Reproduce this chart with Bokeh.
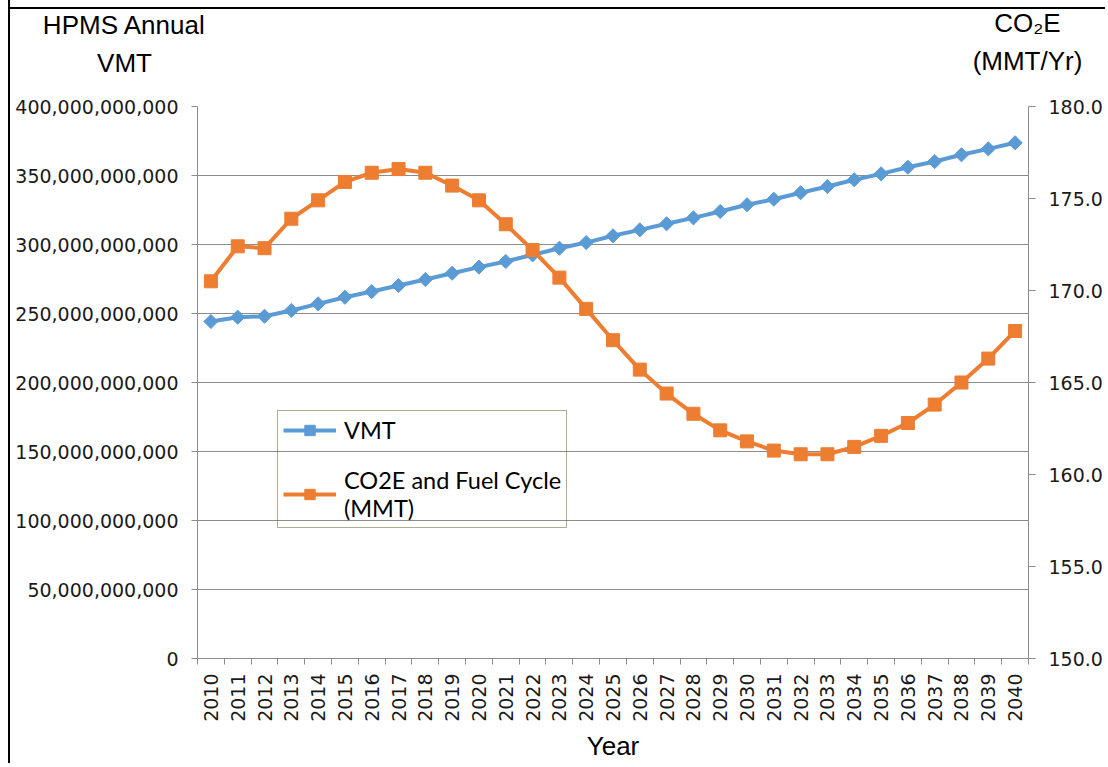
import math
from bokeh.plotting import figure
from bokeh.models import (Range1d, LinearAxis, FixedTicker, NumeralTickFormatter,
                          Legend, LegendItem, Label, Grid)
from bokeh.embed import file_html
from bokeh.resources import INLINE

years = list(range(2010, 2041))
vmt = [244.2e9, 247.3e9, 248.0e9, 252.2e9, 257.0e9, 261.8e9, 265.9e9, 270.3e9, 274.6e9, 279.2e9,
       283.6e9, 287.7e9, 292.5e9, 297.3e9, 301.4e9, 306.3e9, 310.6e9, 315.0e9, 319.3e9, 323.9e9,
       328.8e9, 332.8e9, 337.5e9, 342.0e9, 346.9e9, 351.2e9, 356.0e9, 360.1e9, 365.0e9, 369.3e9,
       373.7e9]
co2e = [170.5, 172.4, 172.3, 173.9, 174.9, 175.9, 176.4, 176.6, 176.4, 175.7,
        174.9, 173.6, 172.2, 170.7, 169.0, 167.3, 165.7, 164.4, 163.3, 162.4,
        161.8, 161.3, 161.1, 161.1, 161.5, 162.1, 162.8, 163.8, 165.0, 166.3,
        167.8]
vmt_ticks = [0, 50e9, 100e9, 150e9, 200e9, 250e9, 300e9, 350e9, 400e9]
co2_ticks = [150, 155, 160, 165, 170, 175, 180]
left_title = "HPMS Annual\nVMT"
right_title = "CO\u2082E\n(MMT/Yr)"

BLUE = "#5B9BD5"
ORANGE = "#ED7D31"
GRID = "#8C8C8C"
TICK_FONT = "DejaVu Sans"
TITLE_FONT = "Liberation Sans"

p = figure(frame_width=831, frame_height=552, output_backend="svg", toolbar_location=None,
           x_range=Range1d(years[0] - 0.5, years[-1] + 0.5),
           y_range=Range1d(vmt_ticks[0], vmt_ticks[-1]),
           x_axis_location=None, y_axis_location=None,
           min_border_left=187, min_border_right=72, min_border_top=97, min_border_bottom=100)
# the two title panels above the frame take 136px; lift the canvas so the frame
# stays where the reference has it, and draw the thin top rule with CSS.
p.styles = {"margin-top": "-30px", "margin-left": "8px",
            "border-left": "2px solid black",
            "background": "linear-gradient(#000, #000) 0px 37px / 100% 2px no-repeat"}
p.outline_line_color = None
p.background_fill_color = "white"
p.border_fill_color = None
p.center = []  # drop default grids

p.extra_y_ranges = {"co2": Range1d(co2_ticks[0], co2_ticks[-1])}

# left axis
ly = LinearAxis(ticker=FixedTicker(ticks=vmt_ticks), formatter=NumeralTickFormatter(format="0,0"))
ly.axis_line_color = GRID
ly.major_tick_line_color = GRID
ly.major_tick_out = 6
ly.major_tick_in = 0
ly.minor_tick_line_color = None
ly.major_label_text_font = TICK_FONT
ly.major_label_text_font_size = "19px"
ly.major_label_text_color = "#1a1a1a"
ly.major_label_standoff = 13
p.add_layout(ly, "left")

# right axis
ry = LinearAxis(y_range_name="co2", ticker=FixedTicker(ticks=co2_ticks),
                formatter=NumeralTickFormatter(format="0.0"))
ry.axis_line_color = GRID
ry.major_tick_line_color = GRID
ry.major_tick_out = 7
ry.major_tick_in = 0
ry.minor_tick_line_color = None
ry.major_label_text_font = TICK_FONT
ry.major_label_text_font_size = "19px"
ry.major_label_text_color = "#1a1a1a"
ry.major_label_standoff = 13
p.add_layout(ry, "right")

# bottom tick axis (ticks between years, no labels)
tx = LinearAxis(ticker=FixedTicker(ticks=[y - 0.5 for y in years] + [years[-1] + 0.5]))
tx.axis_line_color = GRID
tx.major_tick_line_color = GRID
tx.major_tick_out = 6
tx.major_tick_in = 0
tx.minor_tick_line_color = None
tx.major_label_text_font_size = "1px"
tx.major_label_text_color = None
tx.major_label_standoff = 0
p.add_layout(tx, "below")

# bottom label axis
cx = LinearAxis(ticker=FixedTicker(ticks=years))
cx.axis_line_color = None
cx.major_tick_line_color = None
cx.minor_tick_line_color = None
cx.major_tick_out = 0
cx.major_tick_in = 0
cx.major_label_orientation = math.pi / 2
cx.major_label_text_font = TICK_FONT
cx.major_label_text_font_size = "19px"
cx.major_label_text_color = "#1a1a1a"
cx.major_label_standoff = 9
cx.axis_label = "Year"
cx.axis_label_text_font = TITLE_FONT
cx.axis_label_text_font_size = "26px"
cx.axis_label_text_font_style = "normal"
cx.axis_label_text_color = "black"
cx.axis_label_standoff = 6
p.add_layout(cx, "below")

g = Grid(dimension=1, ticker=ly.ticker, grid_line_color=GRID, grid_line_width=1)
p.add_layout(g)

# series
l1 = p.line(years, vmt, line_color=BLUE, line_width=4)
m1 = p.scatter(years, vmt, marker="square", angle=math.pi / 4, size=10,
               fill_color=BLUE, line_color=BLUE)
l2 = p.line(years, co2e, line_color=ORANGE, line_width=4, y_range_name="co2")
m2 = p.scatter(years, co2e, marker="square", size=13, fill_color=ORANGE, line_color=ORANGE,
               y_range_name="co2")

legend = Legend(items=[LegendItem(label="VMT", renderers=[l1, m1]),
                       LegendItem(label="CO2E and Fuel Cycle\n(MMT)", renderers=[l2, m2])],
                location=(80, 130))
legend.background_fill_alpha = 0
legend.border_line_color = "#4F6228"
legend.border_line_width = 1.5
legend.label_text_font = "Lato"
legend.label_text_font_size = "23.5px"
legend.label_text_line_height = 1.3
legend.label_text_color = "black"
legend.glyph_width = 53
legend.glyph_height = 26
legend.spacing = 22
legend.padding = 5
legend.margin = 0
legend.label_standoff = 8
p.add_layout(legend, "center")

# axis titles in the top panels (screen offsets relative to each panel)
def title(text, x, y):
    p.add_layout(Label(x=x, y=y, x_units="screen", y_units="screen", text=text,
                       text_font=TITLE_FONT, text_font_size="26px", text_align="center",
                       text_baseline="bottom", text_line_height=1.27, text_color="black"),
                 "above")

title(left_title, -73, 28)
title(right_title, 830, -38)

open("out.html", "w").write(file_html(p, INLINE))
